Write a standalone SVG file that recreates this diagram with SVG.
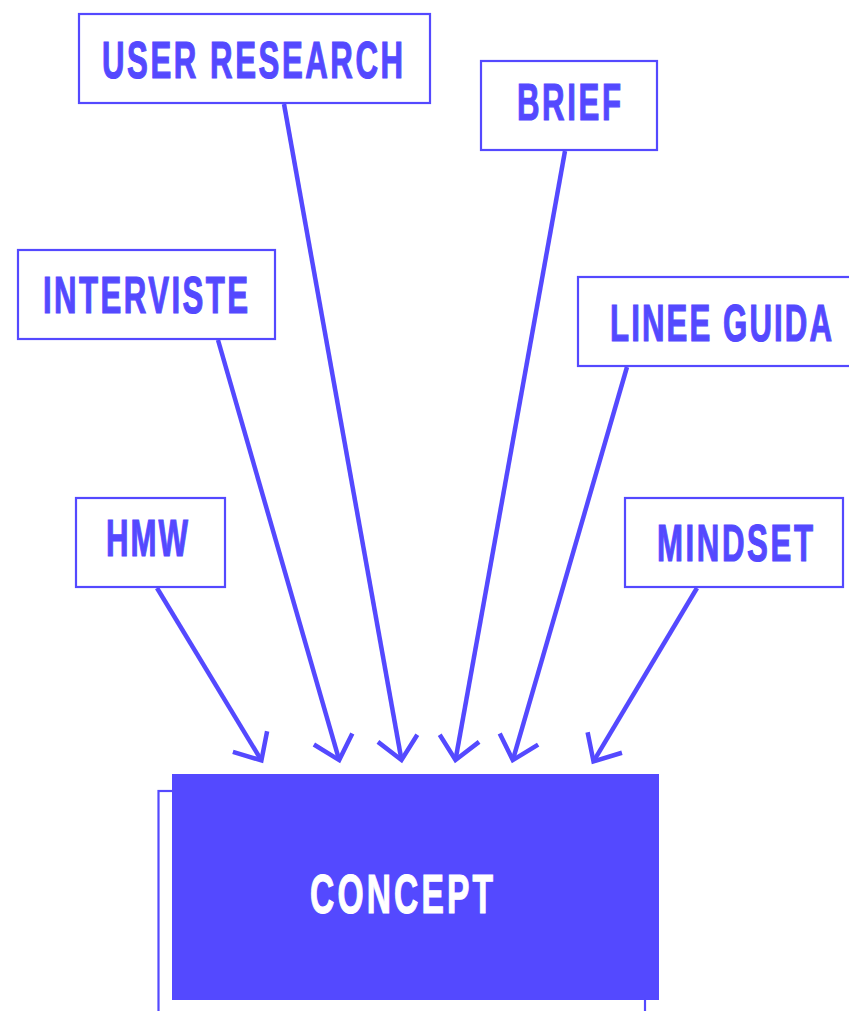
<svg xmlns="http://www.w3.org/2000/svg" width="849" height="1011" viewBox="0 0 849 1011">
<style>
.box{fill:#ffffff;stroke:#5449FF;stroke-width:2.2}
.lbl{font-family:"Liberation Sans",Arial,sans-serif;font-weight:bold;font-size:52px;fill:#5449FF;stroke:#5449FF;stroke-width:1.2}
.wht{fill:#ffffff;stroke:#ffffff;font-size:56px}
.conn{stroke:#5449FF;stroke-width:4.5;fill:none;marker-end:url(#arr)}
</style>
<defs>
<marker id="arr" markerUnits="userSpaceOnUse" viewBox="-30 -25 35 50" markerWidth="35" markerHeight="50" refX="0" refY="0" orient="auto" overflow="visible">
<path d="M-22 -20 L0 0 L-22 20" fill="none" stroke="#5449FF" stroke-width="4.5" stroke-linejoin="miter"/>
</marker>
</defs>
<rect width="849" height="1011" fill="#ffffff"/>
<g id="connectors">
<line class="conn" x1="157" y1="588" x2="261.4" y2="760.4"/>
<line class="conn" x1="218" y1="340" x2="339.2" y2="760.1"/>
<line class="conn" x1="284" y1="104" x2="401.5" y2="760"/>
<line class="conn" x1="565" y1="151" x2="455.5" y2="760"/>
<line class="conn" x1="627" y1="367" x2="512.8" y2="760.1"/>
<line class="conn" x1="697" y1="588" x2="593.5" y2="761.4"/>
</g>
<g id="user-research">
<rect class="box" x="79" y="14" width="351" height="89"/>
<text class="lbl" transform="translate(102,78) scale(0.6,1)" textLength="501.7" lengthAdjust="spacing">USER RESEARCH</text>
</g>
<g id="brief">
<rect class="box" x="481" y="61" width="176" height="89"/>
<text class="lbl" transform="translate(517,120) scale(0.6,1)" textLength="173.3" lengthAdjust="spacing">BRIEF</text>
</g>
<g id="interviste">
<rect class="box" x="18" y="250" width="257" height="89"/>
<text class="lbl" transform="translate(43,313) scale(0.6,1)" textLength="341.7" lengthAdjust="spacing">INTERVISTE</text>
</g>
<g id="linee-guida">
<rect class="box" x="578" y="277" width="280" height="89"/>
<text class="lbl" transform="translate(610,341) scale(0.6,1)" textLength="370" lengthAdjust="spacing">LINEE GUIDA</text>
</g>
<g id="hmw">
<rect class="box" x="76" y="498" width="149" height="89"/>
<text class="lbl" transform="translate(106,556) scale(0.6,1)" textLength="136.7" lengthAdjust="spacing">HMW</text>
</g>
<g id="mindset">
<rect class="box" x="625" y="498" width="218" height="89"/>
<text class="lbl" transform="translate(657,561) scale(0.6,1)" textLength="260" lengthAdjust="spacing">MINDSET</text>
</g>
<g id="concept">
<rect x="158.5" y="791" width="486.5" height="240" fill="none" stroke="#5449FF" stroke-width="2.2"/>
<rect x="172" y="774" width="487" height="226" fill="#5449FF"/>
<text class="lbl wht" transform="translate(310,913) scale(0.6,1)" textLength="305" lengthAdjust="spacing">CONCEPT</text>
</g>
</svg>
